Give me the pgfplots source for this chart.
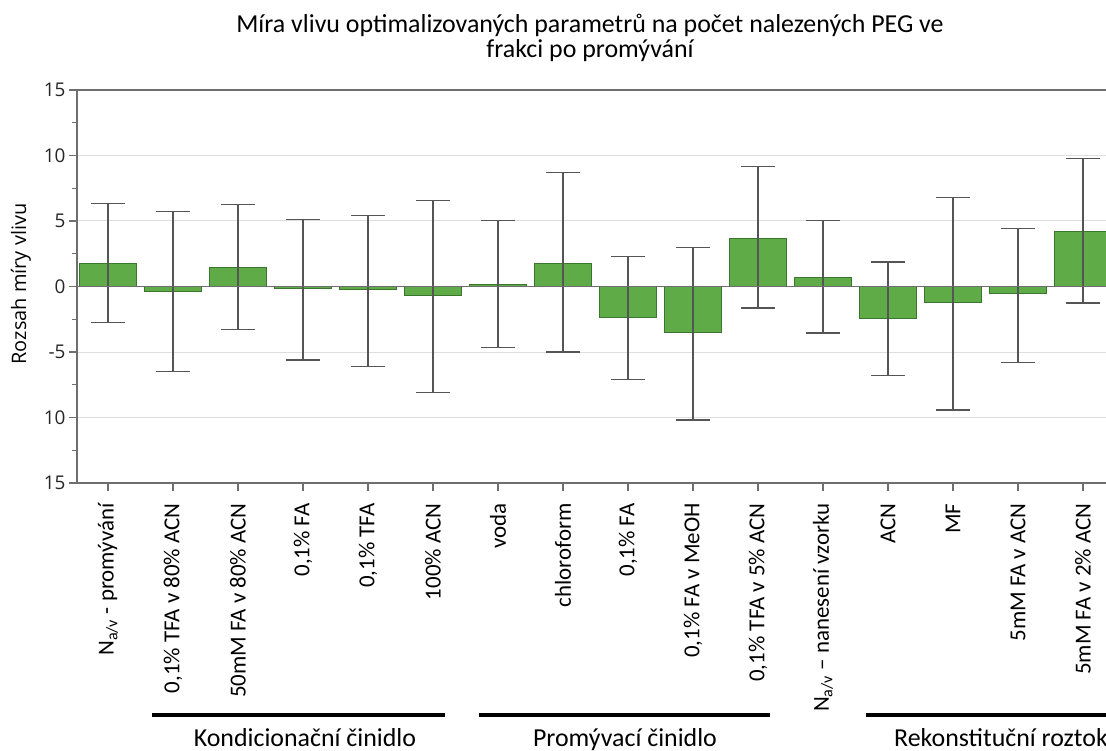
\documentclass[border=0pt]{standalone}
\usepackage{fontspec}
\setmainfont{Carlito}
\newfontfamily\axisfont{Open Sans}
\usepackage{pgfplots}
\usepackage{pgfplotstable}
\pgfplotsset{compat=1.18}

\definecolor{barfill}{RGB}{94,171,72}
\definecolor{barline}{RGB}{58,118,44}
\definecolor{errgray}{RGB}{85,85,85}
\definecolor{axisgray}{RGB}{110,110,110}
\definecolor{gridgray}{RGB}{222,222,222}
\newcommand\lbl{\fontsize{23}{27}\selectfont}
\newcommand\ttl{\fontsize{26}{30}\selectfont}
\newcommand\ytk{\axisfont\fontsize{19}{23}\selectfont}
\newcommand\ylab{\axisfont\fontsize{20}{24}\selectfont}

% effect size of each optimised parameter, with the upper / lower extent of its interval
\pgfplotstableread{
x  val    ep    em
0   1.76  4.55  4.51
1  -0.35  6.05  6.14
2   1.48  4.78  4.74
3  -0.15  5.29  5.45
4  -0.25  5.69  5.85
5  -0.65  7.24  7.42
6   0.15  4.91  4.81
7   1.78  6.90  6.79
8  -2.34  4.63  4.76
9  -3.51  6.51  6.67
10  3.66  5.50  5.31
11  0.71  4.33  4.25
12 -2.42  4.28  4.37
13 -1.22  8.04  8.20
14 -0.55  5.00  5.23
15  4.20  5.55  5.45
}\effects

\begin{document}
\begin{tikzpicture}
\useasboundingbox (-77bp,-268bp) rectangle (1029bp,483bp);
\begin{axis}[
  at={(0bp,0bp)}, anchor=south west,
  scale only axis, width=1029bp, height=393bp,
  xmin=-0.477, xmax=15.354, ymin=-15, ymax=15,
  ybar, bar width=0.88,
  axis x line*=bottom, axis y line*=left,
  axis line style={axisgray, line width=1.2bp},
  tick align=outside,
  major tick length=8bp, minor tick length=5bp,
  tick style={axisgray, line width=1.2bp},
  ytick={-15,-10,-5,0,5,10,15},
  yticklabels={15,10,-5,0,5,10,15},
  minor y tick num=1,
  ymajorgrids, grid style={gridgray, line width=1bp},
  yticklabel style={font=\ytk, text=black!85},
  xtick={0,...,15},
  xticklabels={
    {N\textsubscript{a/v} - promývání},
    {0,1\% TFA v 80\% ACN},
    {50mM FA v 80\% ACN},
    {0,1\% FA},
    {0,1\% TFA},
    {100\% ACN},
    {voda},
    {chloroform},
    {0,1\% FA},
    {0,1\% FA v MeOH},
    {0,1\% TFA v 5\% ACN},
    {N\textsubscript{a/v} – nanesení vzorku},
    {ACN},
    {MF},
    {5mM FA v ACN},
    {5mM FA v 2\% ACN}},
  xticklabel style={font=\lbl, text=black, yshift=-9bp, rotate=90, anchor=east},
  /pgf/number format/assume math mode=true,
]
\addplot[fill=barfill, draw=barline, line width=1bp,
  error bars/.cd, y dir=both, y explicit,
  error bar style={errgray, line width=1.3bp},
  error mark options={rotate=90, errgray, line width=1.3bp, mark size=17bp}]
  table[x=x, y=val, y error plus=ep, y error minus=em] {\effects};
\draw[axisgray, line width=1.2bp] (axis cs:-0.477,0) -- (axis cs:15.354,0);
\draw[axisgray, line width=1.2bp] (rel axis cs:0,1) -- (rel axis cs:1,1);
\end{axis}

% title
\node[anchor=base, font=\ttl, text=black] at (513bp,450bp)
  {Míra vlivu optimalizovaných parametrů na počet nalezených PEG ve};
\node[anchor=base, font=\ttl, text=black] at (513bp,425bp)
  {frakci po promývání};
% y axis title
\node[rotate=90, font=\ylab, text=black] at (-56bp,199bp) {Rozsah míry vlivu};

% parameter groups below the category labels
\draw[line width=3.5bp] (75bp,-232bp) -- (368bp,-232bp);
\draw[line width=3.5bp] (402bp,-232bp) -- (693bp,-232bp);
\draw[line width=3.5bp] (789bp,-232bp) -- (1040bp,-232bp);
\node[anchor=base, font=\ttl, text=black] at (228bp,-263bp) {Kondicionační činidlo};
\node[anchor=base, font=\ttl, text=black] at (548bp,-263bp) {Promývací činidlo};
\node[anchor=base, font=\ttl, text=black] at (924bp,-263bp) {Rekonstituční roztok};
\end{tikzpicture}
\end{document}
